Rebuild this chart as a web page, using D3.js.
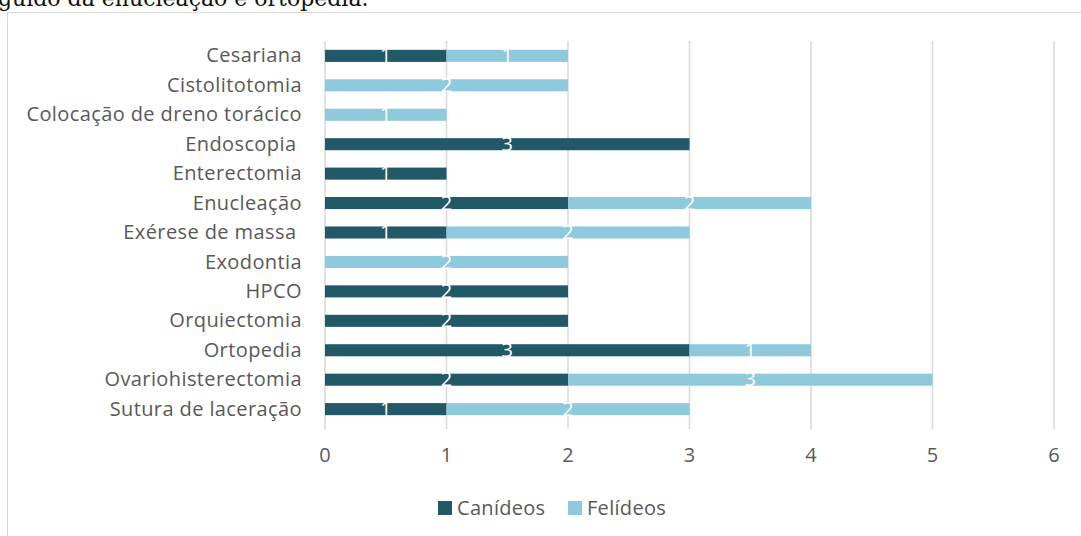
<!DOCTYPE html>
<html>
<head>
<meta charset="utf-8">
<script src="https://cdn.jsdelivr.net/npm/d3@7"></script>
<style>
  body { margin: 0; background: #fff; }
  svg { display: block; }
</style>
</head>
<body>
<svg width="1081" height="536"></svg>
<script>
const categories = ['Cesariana', 'Cistolitotomia', 'Colocação de dreno torácico', 'Endoscopia ',
  'Enterectomia', 'Enucleação', 'Exérese de massa ', 'Exodontia', 'HPCO', 'Orquiectomia',
  'Ortopedia', 'Ovariohisterectomia', 'Sutura de laceração'];
const canideos = [1, 0, 0, 3, 1, 2, 1, 0, 2, 2, 3, 2, 1];
const felideos = [1, 2, 1, 0, 0, 2, 2, 2, 0, 0, 1, 3, 2];
const seriesNames = ['Canídeos', 'Felídeos'];
const colors = ['#215968', '#8ECADB'];
const xTicks = [0, 1, 2, 3, 4, 5, 6];

const svg = d3.select('svg');
const font = 'Open Sans, Noto Sans, sans-serif';

// caption line above the chart box (cut off at the top, as in the source)
svg.append('text')
  .attr('x', -2).attr('y', 6)
  .attr('font-family', 'DejaVu Serif, Liberation Serif, serif')
  .attr('font-size', 22).attr('fill', '#111')
  .text('guido da enucleação e ortopedia.');

// chart frame
svg.append('rect')
  .attr('x', 7.5).attr('y', 12.5).attr('width', 1090).attr('height', 540)
  .attr('fill', 'none').attr('stroke', '#d9d9d9');

const x = d3.scaleLinear().domain([0, 6]).range([325, 1054]);
const y = d3.scaleBand().domain(categories).range([41, 424]).paddingInner(0.59).paddingOuter(0.3);

// gridlines
svg.append('g').selectAll('line')
  .data(xTicks)
  .enter()
  .append('line')
  .attr('x1', d => x(d)).attr('x2', d => x(d))
  .attr('y1', 41).attr('y2', 429)
  .attr('stroke', '#d9d9d9').attr('stroke-width', 1.5);

// tick labels
svg.append('g').selectAll('text')
  .data(xTicks)
  .enter()
  .append('text')
  .attr('x', d => x(d)).attr('y', 462)
  .attr('text-anchor', 'middle')
  .attr('font-family', font).attr('font-size', 20).attr('fill', '#595959')
  .text(d => d);

// category labels
svg.append('g').selectAll('text')
  .data(categories)
  .enter()
  .append('text')
  .attr('xml:space', 'preserve')
  .attr('x', 302).attr('y', d => y(d) + y.bandwidth() / 2)
  .attr('dy', '0.33em')
  .attr('text-anchor', 'end')
  .attr('font-family', font).attr('font-size', 20).attr('letter-spacing', 0.4)
  .attr('fill', '#595959')
  .text(d => d);

// stacked bars
const rows = categories.map((c, i) => ({ cat: c, Canídeos: canideos[i], Felídeos: felideos[i] }));
const stack = d3.stack().keys(seriesNames)(rows);

stack.forEach((layer, si) => {
  const g = svg.append('g');
  g.selectAll('rect')
    .data(layer.filter(d => d[1] > d[0]))
    .enter()
    .append('rect')
    .attr('x', d => x(d[0]))
    .attr('y', d => y(d.data.cat))
    .attr('width', d => x(d[1]) - x(d[0]))
    .attr('height', y.bandwidth())
    .attr('fill', colors[si]);
  g.selectAll('text')
    .data(layer.filter(d => d[1] > d[0]))
    .enter()
    .append('text')
    .attr('x', d => (x(d[0]) + x(d[1])) / 2)
    .attr('y', d => y(d.data.cat) + y.bandwidth() / 2)
    .attr('dy', '0.33em')
    .attr('text-anchor', 'middle')
    .attr('font-family', font).attr('font-size', 20).attr('fill', '#fff')
    .text(d => d[1] - d[0]);
});

// legend
const legend = svg.append('g');
const legX = [438, 568];
seriesNames.forEach((s, i) => {
  legend.append('rect')
    .attr('x', legX[i]).attr('y', 501).attr('width', 14).attr('height', 14)
    .attr('fill', colors[i]);
  legend.append('text')
    .attr('x', legX[i] + 19).attr('y', 508)
    .attr('dy', '0.35em')
    .attr('font-family', font).attr('font-size', 20).attr('letter-spacing', 0.3)
    .attr('fill', '#595959')
    .text(s);
});
</script>
</body>
</html>
